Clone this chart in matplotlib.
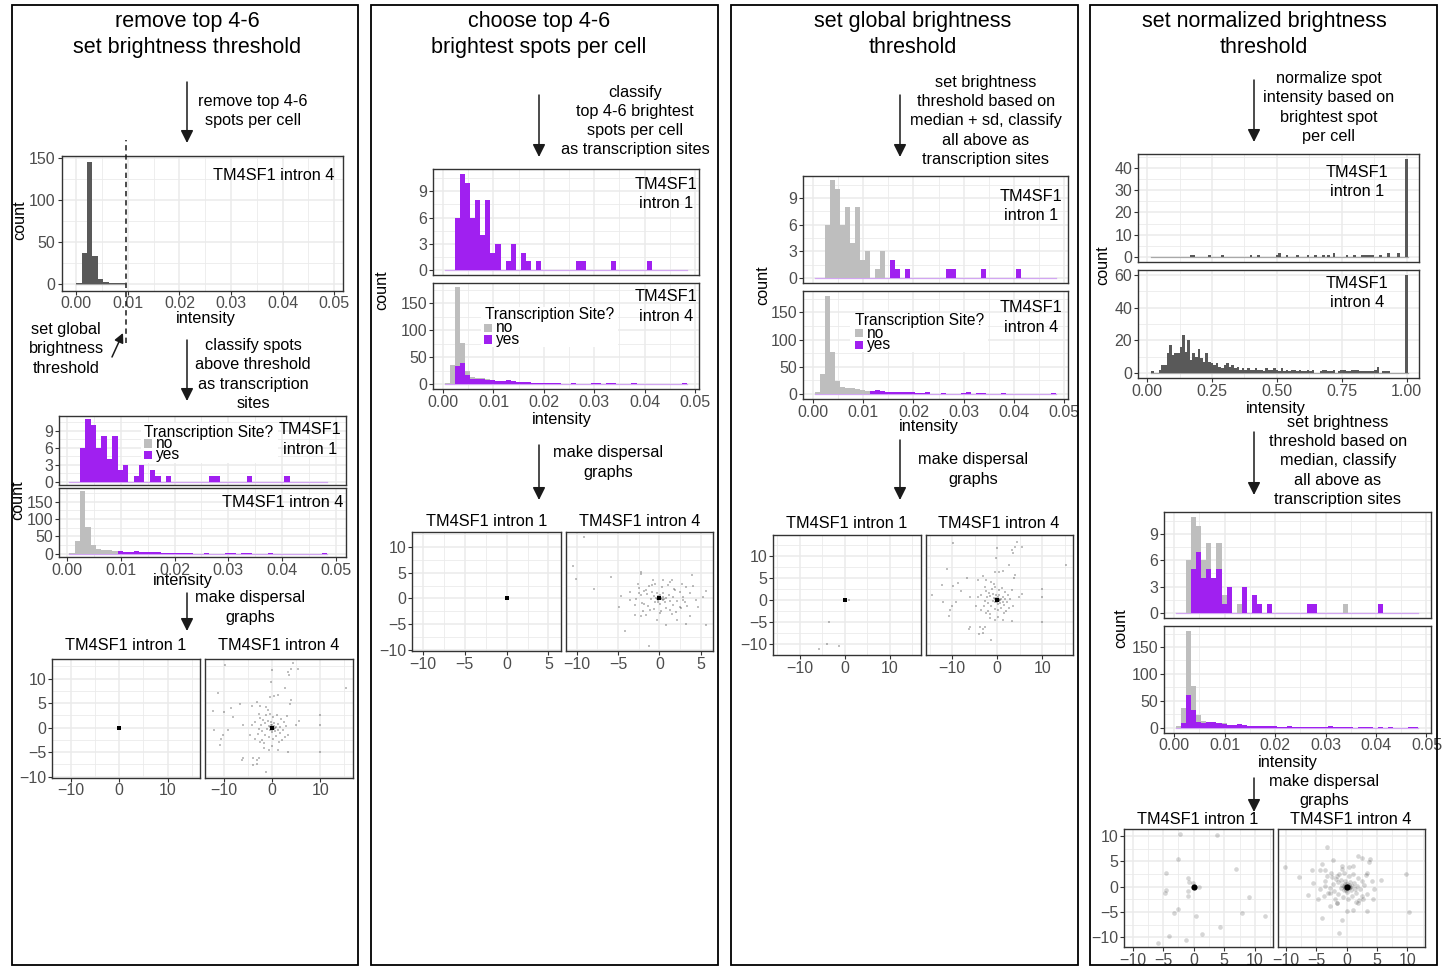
import numpy as np
import matplotlib
matplotlib.use("Agg")
import matplotlib.pyplot as plt
from matplotlib.patches import Rectangle, FancyArrowPatch
from matplotlib.ticker import FormatStrFormatter

plt.rcParams['font.family'] = ['Liberation Sans', 'DejaVu Sans']
plt.rcParams['axes.unicode_minus'] = True

# ---------------------------------------------------------------- data
# intensity histograms (bins of width 0.001 starting at 0.0004)
int_bin_start = 0.0004
int_bin_width = 0.001
i1_counts = [0, 0, 6, 11, 10, 6, 8, 4, 8, 2, 3, 0, 1, 3, 0, 2, 1, 0, 1, 0,
             0, 0, 0, 0, 0, 0, 1, 1, 0, 0, 0, 0, 0, 1, 0, 0, 0, 0, 0, 0,
             1, 0, 0, 0, 0, 0, 0, 0]
i1_yes_threshold = i1_counts
i1_yes_top = i1_counts
i1_yes_global = [0, 0, 0, 0, 0, 0, 0, 0, 0, 0, 0, 0, 0, 0, 0, 2, 1, 0, 1, 0,
                 0, 0, 0, 0, 0, 0, 1, 1, 0, 0, 0, 0, 0, 1, 0, 0, 0, 0, 0, 0,
                 1, 0, 0, 0, 0, 0, 0, 0]
i1_yes_norm = [0, 0, 0, 5, 7, 4, 5, 4, 5, 1, 3, 0, 0, 3, 0, 2, 1, 0, 1, 0,
               0, 0, 0, 0, 0, 0, 1, 1, 0, 0, 0, 0, 0, 0, 0, 0, 0, 0, 0, 0,
               1, 0, 0, 0, 0, 0, 0, 0]

i4_counts = [3, 36, 180, 77, 24, 13, 11, 11, 9, 8, 5, 5, 7, 5, 4, 4, 4, 3, 3, 3,
             2, 2, 3, 1, 1, 2, 1, 1, 1, 2, 3, 1, 2, 2, 1, 0, 1, 2, 1, 0,
             1, 0, 1, 0, 0, 0, 1, 2]
i4_yes_threshold = [0, 0, 0, 0, 0, 0, 0, 0, 0, 8, 5, 5, 7, 5, 4, 4, 4, 3, 3, 3,
                    2, 2, 3, 1, 1, 2, 1, 1, 1, 2, 3, 1, 2, 2, 1, 0, 1, 2, 1, 0,
                    1, 0, 1, 0, 0, 0, 1, 2]
i4_yes_top = [0, 0, 33, 40, 17, 10, 10, 10, 7, 7, 5, 5, 7, 5, 4, 4, 4, 3, 3, 3,
              2, 2, 3, 1, 1, 2, 1, 1, 1, 2, 3, 1, 2, 2, 1, 0, 1, 2, 1, 0,
              1, 0, 1, 0, 0, 0, 1, 2]
i4_yes_global = [0, 0, 0, 0, 0, 0, 0, 0, 0, 0, 0, 5, 7, 5, 4, 4, 4, 3, 3, 3,
                 2, 2, 3, 1, 1, 2, 1, 1, 1, 2, 3, 1, 2, 2, 1, 0, 1, 2, 1, 0,
                 1, 0, 1, 0, 0, 0, 1, 2]
i4_yes_norm = [0, 9, 60, 33, 11, 8, 10, 10, 8, 6, 5, 5, 7, 5, 4, 4, 4, 3, 3, 3,
               2, 2, 3, 1, 1, 2, 1, 1, 1, 2, 3, 1, 2, 2, 1, 0, 1, 2, 1, 0,
               1, 0, 1, 0, 0, 0, 1, 2]

# intron 4 after removing top spots (first column, top histogram)
removed_bin_start = 0.0
removed_bin_width = 0.00105
removed_counts = [1, 37, 145, 33, 6, 2, 1, 1, 1]
threshold_global = 0.00957

# normalized intensity histograms (bins of width 0.01 centred on 0.00 .. 1.00)
norm_bin_width = 0.01
norm_i1_bins = [17, 18, 24, 29, 40, 43, 50, 51, 54, 58, 62, 65, 68, 70, 72, 77,
                80, 83, 84, 85, 86, 87, 90, 93, 97, 100]
norm_i1_vals = [1, 1, 1, 1, 1, 1, 1, 2, 1, 1, 1, 1, 1, 1, 2, 1,
                1, 1, 1, 1, 1, 1, 1, 2, 2, 44]
norm_i4_counts = [0, 0, 1, 0, 0, 2, 5, 5, 12, 17,
                  11, 12, 12, 16, 23, 13, 20, 8, 12, 10,
                  15, 9, 7, 12, 7, 6, 5, 6, 4, 3,
                  5, 6, 4, 5, 3, 4, 2, 3, 2, 3,
                  2, 2, 3, 2, 2, 1, 3, 2, 2, 3,
                  2, 1, 3, 1, 2, 1, 2, 2, 1, 2,
                  1, 1, 2, 1, 2, 0, 0, 1, 2, 2,
                  1, 1, 2, 0, 1, 2, 2, 1, 1, 2,
                  2, 2, 1, 1, 1, 1, 1, 1, 2, 4,
                  0, 1, 1, 1, 0, 0, 0, 0, 0, 0,
                  60]

# dispersal (spot position relative to cell centre)
center_x = [0.0]
center_y = [0.0]
cluster_x = [-2.5, -1.8, -1.2, -0.5, 0.3, 1.0, 1.8, 2.5, 2.9, 2.2,
             1.6, 0.8, 0.2, -0.6, -1.4, -2.1, -2.8, -2.2, -1.5, -0.9,
             -0.3, 0.5, 1.2, 1.7, 1.3, 0.7, 0.1, -0.5, -1.0, -0.7,
             -0.2, 0.4, 0.8, 0.4, -0.2, -0.4, 0.1, 0.6, -0.1, -3.5,
             3.4, -2.0, 2.0, -3.0, 3.2, -0.8, 1.5, -1.6, 2.6, -2.6,
             0.2, -0.1, 0.0, 0.3, -0.3]
cluster_y = [2.0, 1.5, 2.5, 2.8, 2.2, 2.6, 1.8, 1.2, 0.3, -0.5,
             -1.2, -1.8, -2.4, -2.0, -1.5, -0.8, -0.2, 0.6, 0.9, 1.3,
             1.1, 1.0, 0.7, 0.2, -0.4, -0.7, -1.0, -0.6, -0.2, 0.4,
             0.5, 0.3, 0.1, -0.3, -0.3, 0.1, 0.6, -0.1, -0.6, 1.2,
             -1.5, -2.5, -2.6, -1.3, 2.3, 3.5, -3.0, -3.2, -1.9, 2.8,
             0.1, 0.2, -0.2, -0.1, -0.1]
i4_outer_x = [-9.7, 4.3, 4.0, 3.3, 3.6, 5.4, 0.0, -0.2, 15.3, 2.6, -11.1, 1.2, 0.5,
              -0.4, 3.8, 4.0, -8.6, -6.6, -4.2, -3.2, -2.4, -1.3, -12.2, -9.9,
              -8.1, 10.0, 10.0, -6.1, -4.2, 5.6, 4.9, -12.1, -9.2, -10.1, -10.5,
              -10.7, -4.6, -3.5, -2.4, -1.7, -0.6, 0.1, 1.2, 3.3, 10.0, -6.1, -6.3,
              -3.9, -2.8, -3.2, -4.0, -1.3, -3.2]
i4_outer_y = [12.8, 13.2, 12.0, 11.4, 10.7, 12.0, 11.7, 9.4, 8.0, 8.0, 7.0, 6.6, 6.4,
              6.3, 4.9, 5.6, 3.9, 4.9, 4.4, 5.3, 4.5, 4.1, 3.4, 3.2,
              2.1, 2.5, 0.6, 0.6, 0.6, 1.4, 0.6, -0.6, -0.4, -1.5, -2.3,
              -3.6, -1.5, -2.3, -3.0, -4.1, -4.5, -3.8, -4.5, -4.9, -5.0, -6.2, -6.6,
              -6.2, -6.2, -7.5, -7.7, -9.0, -6.6]
i4_global_extra_x = [-14.5]
i4_global_extra_y = [1.1]
i4_top_outer_x = [-9.1, -10.4, -10.1, -7.9, -5.9, -2.2, -2.2, 3.9, 4.1, 5.6,
                  -4.9, -4.1, -1.2, -3.0, -2.2, 0.8, 3.2, 3.7, 5.7, 4.5,
                  3.7, 2.7, 1.5, 0.5, -0.9, -1.6, -3.6, -4.7, 1.3, 2.1,
                  -0.3, 5.3, 4.7, 2.5, 3.1, 1.9, -1.9, -1.1, 0.1, 1.3, -2.5, 2.9]
i4_top_outer_y = [11.9, 6.3, 3.7, 1.9, 4.1, 5.2, 4.7, 4.5, 2.4, 1.5,
                  -1.6, -6.3, -9.2, -3.2, -3.4, -5.2, -5.0, -3.4, -5.2, -0.3,
                  1.0, 2.9, 3.5, 3.5, 2.6, 1.6, -0.3, 0.5, -2.3, -4.2,
                  -4.2, 0.3, -1.6, -1.6, -0.6, 1.6, -1.0, -2.3, -2.9, 3.2, 1.0, -0.3]
i4_norm_outer_x = [-10.2, -7.9, -3.3, 1.9, 2.5, 3.8, 3.6, -2.3, -4.1, -5.7,
                   -4.4, -3.6, -5.5, -6.4, -4.8, -3.8, -4.1, -1.2, -0.7, 0.0,
                   1.0, 1.9, 3.3, 4.4, 4.5, 4.1, 5.7, 9.8, 10.2, -2.7,
                   -1.6, 3.3, 2.7, -1.6, -2.7, 0.3, 1.1, -0.8, -3.3, -4.4, -3.6]
i4_norm_outer_y = [3.8, 2.0, 7.8, 6.1, 5.7, 5.5, 4.9, 5.2, 4.5, 3.4,
                   3.4, 3.3, 0.8, -1.7, -2.5, -1.8, -6.1, -9.1, -6.6, -4.8,
                   -4.5, -3.2, -4.8, -2.5, -0.4, 1.1, 1.4, 2.6, -4.9, -1.2,
                   2.1, 2.8, -2.5, -3.2, -3.8, 3.8, 4.1, 4.1, 2.1, -0.5, 0.1]
i1_global_x = [1.0, -3.4, -4.0, -1.2, -5.7]
i1_global_y = [0.0, -5.1, -9.9, -10.5, -11.1]
i1_norm_x = [-2.2, 3.8, -2.5, -4.5, 7.0, -1.0, -0.8, -0.1, 0.9, -4.6, -4.7, -0.9,
             -0.9, 9.0, -3.3, -2.6, 7.9, 0.3, 11.7, 4.3, -4.1, 1.4, -5.8, -1.2]
i1_norm_y = [10.5, 10.3, 5.4, 2.8, 3.6, 1.8, 1.0, 0.8, 0.0, -0.7, -1.3, -0.9,
             -1.8, -2.0, -5.1, -4.3, -5.1, -5.8, -5.8, -7.9, -9.8, -9.4, -11.1, -10.5]

# ---------------------------------------------------------------- style
W, H = 1444, 966
fig = plt.figure(figsize=(W / 100, H / 100), dpi=100)
fig.patch.set_facecolor('white')

PURPLE = '#A020F0'
GREY = '#BEBEBE'
DARK = '#595959'
GRID = '#EBEBEB'
TICK_FS = 11.5
TXT_FS = 11.7
TITLE_FS = 15.5
LS = 1.36


def add_ax(l, t, r, b):
    return fig.add_axes([l / W, 1 - b / H, (r - l) / W, (b - t) / H])


def ftext(x, y, s, fs=TXT_FS, ha='center', va='center', **kw):
    fig.text(x / W, 1 - y / H, s, fontsize=fs, ha=ha, va=va,
             linespacing=LS, **kw)


def farrow(x0, y0, x1, y1, ms=19):
    fig.add_artist(FancyArrowPatch((x0 / W, 1 - y0 / H), (x1 / W, 1 - y1 / H),
                                   transform=fig.transFigure, arrowstyle='-|>',
                                   mutation_scale=ms, color='#1a1a1a', lw=1.1,
                                   shrinkA=0, shrinkB=0, zorder=6))


def style_ax(ax, xlim, ylim, xmaj, xmin, ymaj, ymin, xlabels=True,
             ylabels=True, xfmt=None):
    ax.set_xlim(*xlim)
    ax.set_ylim(*ylim)
    ax.set_xticks(xmaj)
    ax.set_xticks(xmin, minor=True)
    ax.set_yticks(ymaj)
    ax.set_yticks(ymin, minor=True)
    if xfmt:
        ax.xaxis.set_major_formatter(FormatStrFormatter(xfmt))
    ax.grid(True, which='major', color=GRID, lw=1.1)
    ax.grid(True, which='minor', color=GRID, lw=0.6)
    ax.set_axisbelow(True)
    for sp in ax.spines.values():
        sp.set_color('#333333')
        sp.set_linewidth(1.0)
    ax.tick_params(which='major', length=2.75, width=0.8, color='#333333',
                   labelsize=TICK_FS, labelcolor='#4D4D4D', pad=1.5)
    ax.tick_params(which='minor', length=0)
    ax.tick_params(axis='x', bottom=xlabels, labelbottom=xlabels)
    ax.tick_params(axis='y', left=ylabels, labelleft=ylabels)


def int_centers(n, start, width):
    return start + width * (np.arange(n) + 0.5)


INT_X = dict(xmaj=[0, 0.01, 0.02, 0.03, 0.04, 0.05],
             xmin=[0.005, 0.015, 0.025, 0.035, 0.045], xfmt='%.2f')
Y_I1 = dict(ylim=(-0.55, 11.55), ymaj=[0, 3, 6, 9], ymin=[1.5, 4.5, 7.5, 10.5])
Y_I4 = dict(ylim=(-9, 189), ymaj=[0, 50, 100, 150], ymin=[25, 75, 125, 175])


def stacked_hist(box, counts, yes, xlim, yspec, xlabels):
    ax = add_ax(*box)
    counts = np.asarray(counts, float)
    yes = np.asarray(yes, float)
    c = int_centers(len(counts), int_bin_start, int_bin_width)
    ax.bar(c, yes, width=int_bin_width, color=PURPLE, lw=0, zorder=1)
    ax.bar(c, counts - yes, bottom=yes, width=int_bin_width, color=GREY, lw=0, zorder=1)
    edges = int_bin_start + int_bin_width * np.array([0, len(counts)])
    ax.plot(edges, [0, 0], color='#D2A6F2', lw=0.9, zorder=0.9)
    style_ax(ax, xlim, yspec['ylim'], INT_X['xmaj'], INT_X['xmin'],
             yspec['ymaj'], yspec['ymin'], xlabels=xlabels, xfmt=INT_X['xfmt'])
    return ax


def legend_box(x0, y0, x1, y1, tx, ty, sqx, no_y, yes_y):
    fig.add_artist(Rectangle((x0 / W, 1 - y1 / H), (x1 - x0) / W, (y1 - y0) / H,
                             transform=fig.transFigure, facecolor='white',
                             edgecolor='none', zorder=5))
    ftext(tx, ty, 'Transcription Site?', fs=11.2, ha='left', zorder=7)
    for yy, col, lab in [(no_y, GREY, 'no'), (yes_y, PURPLE, 'yes')]:
        fig.add_artist(Rectangle((sqx / W, 1 - (yy + 4) / H), 8 / W, 8 / H,
                                 transform=fig.transFigure, facecolor=col,
                                 edgecolor='none', zorder=6))
        ftext(sqx + 12, yy, lab, fs=11.2, ha='left', zorder=7)


def scatter_panel(box, xs, ys, xlim, ylim, xmaj, xmin, ymaj, ymin, ylabels,
                  big=False):
    ax = add_ax(*box)
    if big:
        ax.scatter(xs, ys, s=11, c='black', alpha=0.16, linewidths=0)
        ax.scatter(center_x, center_y, s=20, c='black', linewidths=0)
    else:
        ax.scatter(xs, ys, s=3.5, marker='s', c='black', alpha=0.25, linewidths=0)
        ax.scatter(center_x, center_y, s=6, marker='s', c='black', linewidths=0)
    style_ax(ax, xlim, ylim, xmaj, xmin, ymaj, ymin, ylabels=ylabels)
    return ax


# ---------------------------------------------------------------- column boxes
for l, r in [(12, 358), (371, 718), (731, 1078), (1090, 1437)]:
    fig.add_artist(Rectangle((l / W, 1 - 965 / H), (r - l) / W, 960 / H,
                             transform=fig.transFigure, fill=False,
                             edgecolor='black', lw=1.3, zorder=10))

# ================================================================ column 1
ftext(187, 34.5, 'remove top 4-6\nset brightness threshold', fs=TITLE_FS)
farrow(187, 82, 187, 143)
ftext(253, 111, 'remove top 4-6\nspots per cell')

ax = add_ax(61.5, 156, 342.5, 290.5)
rc = int_centers(len(removed_counts), removed_bin_start, removed_bin_width)
ax.bar(rc, removed_counts, width=removed_bin_width, color=DARK, lw=0, zorder=1)
ax.plot(removed_bin_start + removed_bin_width * np.array([0, len(removed_counts)]),
        [0, 0], color='#A8A8A8', lw=0.9, zorder=0.9)
style_ax(ax, (-0.00285, 0.0516), (-7.6, 152.5), INT_X['xmaj'], INT_X['xmin'],
         [0, 50, 100, 150], [25, 75, 125], xfmt='%.2f')
ax.axvline(threshold_global, ymin=-0.39, ymax=1.12, color='#1a1a1a', lw=1.1,
           ls=(0, (3.5, 2.5)), clip_on=False, zorder=5)
ftext(274, 175, 'TM4SF1 intron 4')
ftext(20, 220, 'count', rotation=90)
ftext(206, 319, 'intensity')

ftext(66, 349, 'set global\nbrightness\nthreshold')
farrow(112, 357, 123, 333, ms=14)
farrow(187, 340, 187, 401)
ftext(253, 374.5, 'classify spots\nabove threshold\nas transcription\nsites')

stacked_hist((59, 416, 345.5, 485), i1_counts, i1_yes_threshold,
             (-0.0015, 0.0518), Y_I1, False)
stacked_hist((59, 488, 345.5, 557), i4_counts, i4_yes_threshold,
             (-0.0015, 0.0518), Y_I4, True)
legend_box(141, 423, 278, 463, 144, 432, 144, 443.5, 455)
ftext(310, 439.5, 'TM4SF1\nintron 1')
ftext(283, 503, 'TM4SF1 intron 4')
ftext(18, 500, 'count', rotation=90)
ftext(182.5, 581, 'intensity')

farrow(187, 593, 187, 631)
ftext(250, 607.5, 'make dispersal\ngraphs')

S1 = dict(xlim=(-13.9, 16.7), ylim=(-10.2, 14.0), xmaj=[-10, 0, 10],
          xmin=[-5, 5, 15], ymaj=[-10, -5, 0, 5, 10], ymin=[-7.5, -2.5, 2.5, 7.5, 12.5])
scatter_panel((52, 659, 200, 777.5), [], [], ylabels=True, **S1)
scatter_panel((205, 659, 352.5, 777.5), i4_outer_x + cluster_x,
              i4_outer_y + cluster_y, ylabels=False, **S1)
ftext(126, 646, 'TM4SF1 intron 1')
ftext(279, 646, 'TM4SF1 intron 4')

# ================================================================ column 2
ftext(539, 34.5, 'choose top 4-6\nbrightest spots per cell', fs=TITLE_FS)
farrow(539, 95, 539, 157)
ftext(635, 121, 'classify\ntop 4-6 brightest\nspots per cell\nas transcription sites')

stacked_hist((433, 169, 699, 275), i1_counts, i1_yes_top, (-0.002, 0.0508), Y_I1, False)
stacked_hist((433, 282.5, 699, 389), i4_counts, i4_yes_top, (-0.002, 0.0508), Y_I4, True)
legend_box(481, 307, 618, 347, 485, 315, 484, 328, 339.5)
ftext(666, 194, 'TM4SF1\nintron 1')
ftext(666, 306.5, 'TM4SF1\nintron 4')
ftext(382, 290, 'count', rotation=90)
ftext(562, 420, 'intensity')

farrow(539, 445, 539, 500)
ftext(608, 462.5, 'make dispersal\ngraphs')

S2 = dict(xlim=(-11.3, 6.5), ylim=(-10.2, 12.9), xmaj=[-10, -5, 0, 5],
          xmin=[-7.5, -2.5, 2.5], ymaj=[-10, -5, 0, 5, 10], ymin=[-7.5, -2.5, 2.5, 7.5, 12.5])
scatter_panel((412, 532, 561, 651), [], [], ylabels=True, **S2)
scatter_panel((566, 532, 713, 651), i4_top_outer_x + cluster_x,
              i4_top_outer_y + cluster_y, ylabels=False, **S2)
ftext(486.5, 521, 'TM4SF1 intron 1')
ftext(639.5, 521, 'TM4SF1 intron 4')

# ================================================================ column 3
ftext(913, 34.5, 'set global brightness\nthreshold', fs=TITLE_FS)
farrow(900, 95, 900, 157)
ftext(986, 121, 'set brightness\nthreshold based on\nmedian + sd, classify\nall above as\ntranscription sites')

stacked_hist((803, 175.5, 1068, 283), i1_counts, i1_yes_global, (-0.002, 0.0508), Y_I1, False)
stacked_hist((803, 291, 1068, 399), i4_counts, i4_yes_global, (-0.002, 0.0508), Y_I4, True)
legend_box(850, 313, 988, 352, 855, 321, 855, 333, 344.5)
ftext(1031, 206, 'TM4SF1\nintron 1')
ftext(1031, 317.5, 'TM4SF1\nintron 4')
ftext(763, 285, 'count', rotation=90)
ftext(929, 427, 'intensity')

farrow(900, 440, 900, 500)
ftext(973, 469.5, 'make dispersal\ngraphs')

S3 = dict(xlim=(-15.9, 16.8), ylim=(-12.4, 14.7), xmaj=[-10, 0, 10],
          xmin=[-15, -5, 5, 15], ymaj=[-10, -5, 0, 5, 10], ymin=[-12.5, -7.5, -2.5, 2.5, 7.5, 12.5])
scatter_panel((773, 535, 920.5, 655), i1_global_x, i1_global_y, ylabels=True, **S3)
scatter_panel((925.5, 535, 1073, 655), i4_outer_x + i4_global_extra_x + cluster_x,
              i4_outer_y + i4_global_extra_y + cluster_y, ylabels=False, **S3)
ftext(847, 524, 'TM4SF1 intron 1')
ftext(999, 524, 'TM4SF1 intron 4')

# ================================================================ column 4
ftext(1264, 34.5, 'set normalized brightness\nthreshold', fs=TITLE_FS)
farrow(1254, 80, 1254, 142)
ftext(1329, 107.5, 'normalize spot\nintensity based on\nbrightest spot\nper cell')

norm_centers = norm_bin_width * np.arange(len(norm_i4_counts))
norm_i1_counts = np.zeros(len(norm_i4_counts))
norm_i1_counts[norm_i1_bins] = norm_i1_vals
NX = dict(xmaj=[0, 0.25, 0.5, 0.75, 1.0], xmin=[0.125, 0.375, 0.625, 0.875], xfmt='%.2f')
for box, cnts, ylim, ymaj, ymin, xl in [
        ((1138, 154, 1418.5, 262), norm_i1_counts, (-2.2, 46.2), [0, 10, 20, 30, 40],
         [5, 15, 25, 35, 45], False),
        ((1138, 270, 1418.5, 378), norm_i4_counts, (-3, 63), [0, 20, 40, 60],
         [10, 30, 50], True)]:
    ax = add_ax(*box)
    ax.bar(norm_centers, cnts, width=norm_bin_width, color=DARK, lw=0, zorder=1)
    ax.plot([norm_centers[2] - norm_bin_width / 2, norm_centers[-1] + norm_bin_width / 2],
            [0, 0], color='#A8A8A8', lw=0.9, zorder=0.9)
    style_ax(ax, (-0.035, 1.046), ylim, NX['xmaj'], NX['xmin'], ymaj, ymin,
             xlabels=xl, xfmt=NX['xfmt'])
ftext(1357, 182, 'TM4SF1\nintron 1')
ftext(1357, 293, 'TM4SF1\nintron 4')
ftext(1103, 265, 'count', rotation=90)
ftext(1276, 409, 'intensity')

farrow(1254, 432, 1254, 495)
ftext(1338, 461, 'set brightness\nthreshold based on\nmedian, classify\nall above as\ntranscription sites')

stacked_hist((1164, 512, 1430.5, 617.5), i1_counts, i1_yes_norm, (-0.002, 0.0508), Y_I1, False)
stacked_hist((1164, 626, 1430.5, 732.5), i4_counts, i4_yes_norm, (-0.002, 0.0508), Y_I4, True)
ftext(1121, 628, 'count', rotation=90)
ftext(1287.5, 763, 'intensity')

farrow(1254, 778, 1254, 812)
ftext(1324, 791, 'make dispersal\ngraphs')

S4 = dict(xlim=(-11.4, 12.9), ylim=(-11.9, 11.4), xmaj=[-10, -5, 0, 5, 10],
          xmin=[-7.5, -2.5, 2.5, 7.5, 12.5], ymaj=[-10, -5, 0, 5, 10],
          ymin=[-7.5, -2.5, 2.5, 7.5])
scatter_panel((1124, 829, 1272.5, 947), i1_norm_x, i1_norm_y, ylabels=True, big=True, **S4)
scatter_panel((1277.5, 829, 1425, 947), i4_norm_outer_x + cluster_x,
              i4_norm_outer_y + cluster_y, ylabels=False, big=True, **S4)
ftext(1198, 820, 'TM4SF1 intron 1')
ftext(1351, 820, 'TM4SF1 intron 4')

fig.savefig('out.png', dpi=100, facecolor='white')
